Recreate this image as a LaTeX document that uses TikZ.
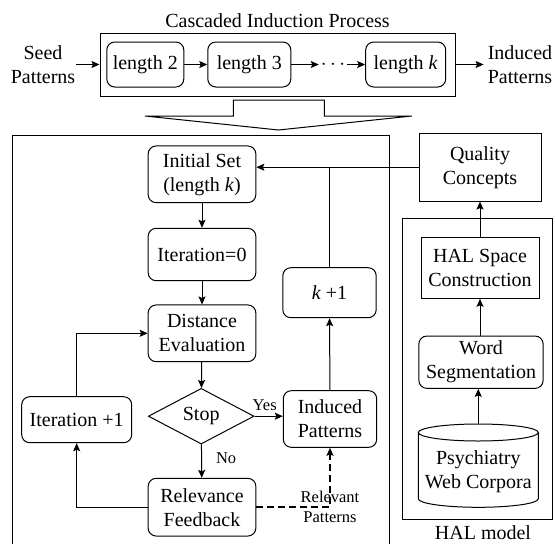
\documentclass[tikz,border=0pt]{standalone}
\usepackage{fontspec}
\setmainfont{Liberation Serif}
\usetikzlibrary{arrows.meta,shapes.geometric}

\tikzset{
  box/.style={draw, line width=1pt, align=center, inner sep=0pt},
  rbox/.style={box, rounded corners=8pt},
  cond/.style={draw, line width=1pt, diamond, aspect=2, inner sep=0pt},
  lbl/.style={font=\fontsize{16.5}{20.7}\selectfont, inner sep=1pt},
  flow/.style={->, line width=1pt},
}

\begin{document}
\begin{tikzpicture}[x=1pt, y=-1pt, >={Stealth[length=8pt,width=7pt,inset=1.5pt]},
    font=\fontsize{20}{24}\selectfont]
    \useasboundingbox (0,0) rectangle (555,544);

    % cascade of lengths
    \node (title) at (277.5,21) {Cascaded Induction Process};
    \node[box, minimum width=355pt, minimum height=63pt] (cascade) at (277.5,64.5) {};
    \node[rbox, minimum width=77pt, minimum height=45pt] (len2) at (145.3,64.5) {length 2};
    \node[rbox, minimum width=83pt, minimum height=45pt] (len3) at (249.3,64.5) {length 3};
    \node[inner sep=0pt, minimum width=28pt] (dots) at (333,64.5) {$\cdots$};
    \node[rbox, minimum width=80pt, minimum height=45pt] (lenk) at (405.7,64.5) {length \textit{k}};
    \node[align=center, inner sep=1pt] (seed) at (43,64.5) {Seed\\Patterns};
    \node[align=center, inner sep=4pt] (output) at (520,64.5) {Induced\\Patterns};
    \draw[flow] (seed) -- (cascade);
    \draw[flow] (len2) -- (len3);
    \draw[flow] (len3) -- (dots);
    \draw[flow] (dots) -- (lenk);
    \draw[flow] (cascade) -- (output);

    % expansion arrow
    \draw[line width=1pt] (233.3,100) -- (233.3,116) -- (145,116) -- (278.5,130)
        -- (412,116) -- (324.3,116) -- (324.3,100) -- cycle;

    % one length: iteration loop
    \draw[line width=1pt] (12.7,135) rectangle (389.3,560);
    \node[rbox, minimum width=107.7pt, minimum height=56.7pt] (init) at (202,174.3) {Initial Set\\(length \textit{k})};
    \node[rbox, minimum width=107.7pt, minimum height=52.4pt] (iter0) at (202,254.5) {Iteration=0};
    \node[rbox, minimum width=107.7pt, minimum height=56.7pt] (dist) at (202,333.3) {Distance\\Evaluation};
    \node[cond, minimum width=105.7pt, minimum height=55.7pt] (stop) at (201.2,416.2) {Stop};
    \node[rbox, minimum width=107.7pt, minimum height=57.7pt] (relfb) at (202,507.2) {Relevance\\Feedback};
    \node[rbox, minimum width=110pt, minimum height=46pt] (iterp1) at (76.7,419.7) {Iteration +1};
    \node[rbox, minimum width=93.4pt, minimum height=56.6pt] (induced) at (330,419) {Induced\\Patterns};
    \node[rbox, minimum width=93.4pt, minimum height=50pt] (kp1) at (329.5,292.7) {\textit{k} +1};

    \draw[flow] (init) -- (iter0);
    \draw[flow] (iter0) -- (dist);
    \draw[flow] (dist) -- (stop);
    \draw[flow] (stop) -- node[lbl, right, pos=0.4, xshift=13pt] {No} (relfb);
    \draw[flow] (stop.east) -- node[lbl, above, xshift=-4pt, yshift=4pt] {Yes} (stop.east -| induced.west);
    \draw[flow] (relfb.west) -| (iterp1.south);
    \draw[flow] (iterp1.north) |- (dist.west);
    \draw[flow] (induced) -- (kp1);
    \draw[->, line width=1.6pt, dash pattern=on 7pt off 4pt] (relfb.east) -| (induced.south);
    \node[lbl, align=center] (relpat) at (330,507) {Relevant\\Patterns};

    % HAL model
    \node[box, minimum width=122pt, minimum height=67.7pt] (quality) at (480,167.2) {Quality\\Concepts};
    \draw[line width=1pt] (402,218) rectangle (552.5,519.3);
    \node[box, minimum width=118pt, minimum height=61pt] (hal) at (480,267.8) {HAL Space\\Construction};
    \node[rbox, minimum width=124.3pt, minimum height=52.3pt] (wordseg) at (481,362.2) {Word\\Segmentation};
    \draw[line width=1pt] (418.3,432.5) -- (418.3,498.8)
        arc[start angle=180, end angle=0, x radius=60, y radius=8.5] -- (538.3,432.5)
        arc[start angle=0, end angle=-180, x radius=60, y radius=8.5];
    \draw[line width=1pt] (418.3,432.5) arc[start angle=180, end angle=0, x radius=60, y radius=8.5];
    \coordinate (corptop) at (478.3,424);
    \node[align=center] (corpora) at (478.3,471.5) {Psychiatry\\Web Corpora};
    \node (halmodel) at (483,533) {HAL model};

    \draw[flow] (corptop) -- (corptop |- wordseg.south);
    \draw[flow] (wordseg.north -| hal.south) -- (hal.south);
    \draw[flow] (hal) -- (quality);
    \draw (kp1.north) -- (kp1.north |- quality.west);
    \draw[flow] (quality.west) -- (quality.west -| init.east);
\end{tikzpicture}
\end{document}
